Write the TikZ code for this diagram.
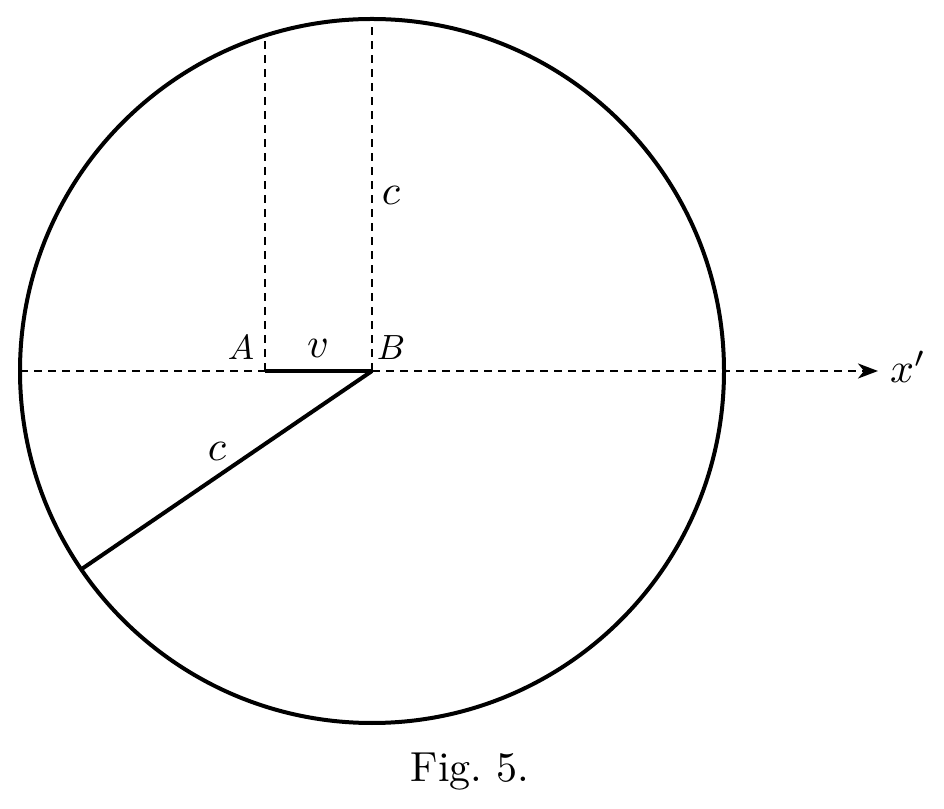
\documentclass[tikz,border=0pt]{standalone}
\usetikzlibrary{arrows.meta,calc}
\begin{document}
\begin{tikzpicture}[x=1pt,y=1pt,
  solidline/.style={line width=4pt},
  dashline/.style={line width=2.6pt,dash pattern=on 8pt off 6pt},
  lbl/.style={inner sep=0pt,scale=3.5},
  lowlbl/.style={inner sep=0pt,scale=4.2}]
\useasboundingbox (0,0) rectangle (944,808);
\coordinate (O) at (372,437);
\coordinate (A) at (265,437);
\coordinate (B) at (372,437);
\coordinate (L) at (20,437);
\coordinate (R) at (878,437);
\coordinate (Atop) at (265,772.5);
\coordinate (Btop) at (372,789);
\coordinate (P) at ($(B)+(214.3:352)$);
\draw[solidline] (O) circle[radius=352];
\draw[dashline] (L) -- (A);
\draw[dashline,-{Stealth[length=20pt,width=15pt,inset=6pt]}] (B) -- (R);
\draw[dashline] (A) -- (Atop);
\draw[dashline] (B) -- (Btop);
\draw[solidline] (A) -- (B);
\draw[solidline] (B) -- (P);
\node[lowlbl] (lc1) at (391,613) {$c$};
\node[lowlbl] (lc2) at (217,357) {$c$};
\node[lowlbl] (lv) at (318,460) {$v$};
\node[lbl] (lA) at (241,460) {$A$};
\node[lbl] (lB) at (391,460) {$B$};
\node[lowlbl] (lx) at (908,441) {$x'$};
\node[inner sep=0pt,scale=4.2] (cap) at (470,36) {Fig.\ 5.};
\end{tikzpicture}
\end{document}
